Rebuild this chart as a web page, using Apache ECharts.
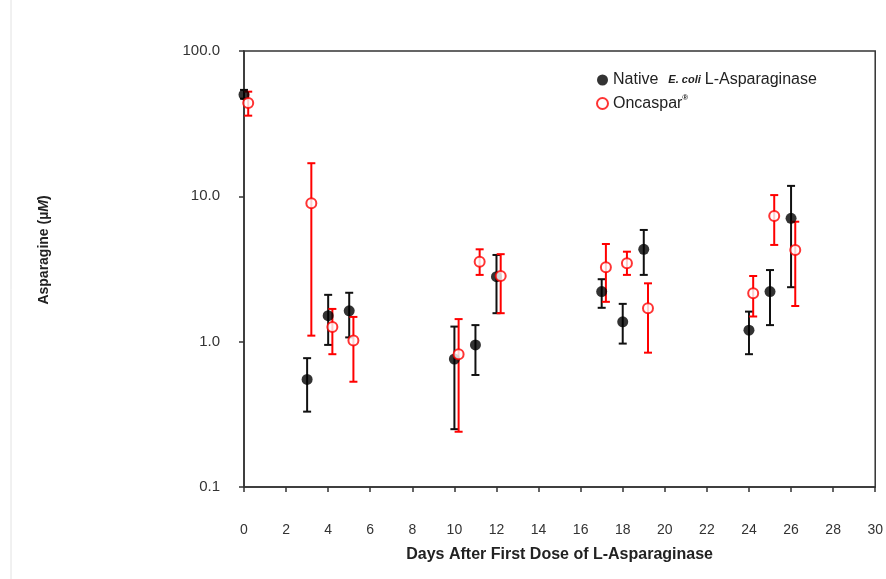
<!DOCTYPE html>
<html>
<head>
<meta charset="utf-8">
<script src="https://cdn.jsdelivr.net/npm/echarts@6/dist/echarts.min.js"></script>
<style>html,body{margin:0;padding:0;background:#fff}#c{width:886px;height:579px}</style>
</head>
<body>
<div id="c"></div>
<script>
// Native E. coli L-Asparaginase
var nativeDays = [0, 3, 4, 5, 10, 11, 12, 17, 18, 19, 24, 25, 26];
var nativeMean = [50, 0.55, 1.51, 1.63, 0.76, 0.95, 2.80, 2.21, 1.37, 4.32, 1.20, 2.21, 7.06];
var nativeLow  = [47, 0.33, 0.95, 1.07, 0.25, 0.59, 1.57, 1.71, 0.97, 2.88, 0.82, 1.30, 2.37];
var nativeHigh = [54, 0.77, 2.10, 2.17, 1.27, 1.30, 3.95, 2.69, 1.82, 5.87, 1.61, 3.11, 11.8];
// Oncaspar
var oncDays = [0.2, 3.2, 4.2, 5.2, 10.2, 11.2, 12.2, 17.2, 18.2, 19.2, 24.2, 25.2, 26.2];
var oncMean = [43.9, 8.95, 1.26, 1.02, 0.82, 3.55, 2.83, 3.25, 3.46, 1.70, 2.15, 7.33, 4.27];
var oncLow  = [35.9, 1.10, 0.82, 0.53, 0.24, 2.88, 1.57, 1.88, 2.88, 0.84, 1.49, 4.63, 1.76];
var oncHigh = [52.5, 16.9, 1.68, 1.48, 1.43, 4.32, 4.00, 4.70, 4.16, 2.52, 2.83, 10.2, 6.69];
var xTicks = [0, 30, 2];
var yTicks = [0.1, 1, 10, 100];

var font = 'Liberation Sans, Arial, sans-serif';

function pts(xs, ys) { return xs.map(function (x, i) { return [x, ys[i]]; }); }
function bars(xs, lo, hi) { return xs.map(function (x, i) { return [x, lo[i], hi[i]]; }); }

function errRender(color) {
  return function (params, api) {
    var x = api.value(0), lo = api.value(1), hi = api.value(2);
    var a = api.coord([x, lo]), b = api.coord([x, hi]);
    var w = 4;
    var st = { stroke: color, lineWidth: 2 };
    return {
      type: 'group',
      children: [
        { type: 'line', shape: { x1: a[0], y1: a[1], x2: b[0], y2: b[1] }, style: st },
        { type: 'line', shape: { x1: a[0] - w, y1: a[1], x2: a[0] + w, y2: a[1] }, style: st },
        { type: 'line', shape: { x1: b[0] - w, y1: b[1], x2: b[0] + w, y2: b[1] }, style: st }
      ]
    };
  };
}

var chart = echarts.init(document.getElementById('c'));
chart.setOption({
  animation: false,
  backgroundColor: '#fff',
  grid: { left: 244, right: 7, top: 51, bottom: 92, show: true, borderColor: '#333', borderWidth: 1.5 },
  xAxis: {
    type: 'value', min: xTicks[0], max: xTicks[1], interval: xTicks[2],
    name: 'Days After First Dose of L-Asparaginase', nameLocation: 'middle', nameGap: 60,
    nameTextStyle: { fontFamily: font, fontSize: 16, fontWeight: 'bold', color: '#222' },
    axisLine: { lineStyle: { color: '#333', width: 1.5 } },
    axisTick: { show: true, inside: false, length: 5, lineStyle: { color: '#333', width: 1.5 } },
    axisLabel: { margin: 36, fontFamily: font, fontSize: 14, color: '#333' },
    splitLine: { show: false }
  },
  yAxis: {
    type: 'log', logBase: 10, min: yTicks[0], max: yTicks[yTicks.length - 1],
    axisLine: { lineStyle: { color: '#333', width: 1.5 } },
    axisTick: { show: true, inside: false, length: 5, lineStyle: { color: '#333', width: 1.5 } },
    axisLabel: { margin: 24, fontFamily: font, fontSize: 15, color: '#333',
      formatter: function (v) { return Number(v).toFixed(1); } },
    minorTick: { show: false },
    splitLine: { show: false }
  },
  legend: {
    orient: 'vertical', left: 591, top: 67, itemWidth: 11, itemHeight: 11, itemGap: 6,
    data: ['Native', 'Oncaspar'],
    textStyle: {
      fontFamily: font, fontSize: 16, color: '#222',
      rich: {
        a: { fontFamily: font, fontSize: 16, color: '#222', lineHeight: 19 },
        i: { fontFamily: font, fontSize: 11, fontStyle: 'italic', fontWeight: 'bold', color: '#222', padding: [0, 4, 0, 10] },
        s: { fontFamily: font, fontSize: 8, fontWeight: 'bold', color: '#222', verticalAlign: 'top', lineHeight: 19 }
      }
    },
    formatter: function (n) {
      if (n === 'Native') return '{a|Native}{i|E. coli}{a|L-Asparaginase}';
      return '{a|Oncaspar}{s|®}';
    }
  },
  graphic: [
    { type: 'line', shape: { x1: 11, y1: 0, x2: 11, y2: 579 }, style: { stroke: '#e2e2e2', lineWidth: 1 } },
    {
      type: 'text', x: 44, y: 250, rotation: Math.PI / 2,
      style: {
        text: '{b|Asparagine (µ}{m|M}{b|)}', align: 'center', verticalAlign: 'middle',
        rich: {
          b: { fontFamily: font, fontSize: 14, fontWeight: 'bold', fill: '#222' },
          m: { fontFamily: font, fontSize: 14, fontWeight: 'bold', fontStyle: 'italic', fill: '#222' }
        }
      }
    }
  ],
  series: [
    { type: 'custom', name: 'nativeErr', data: bars(nativeDays, nativeLow, nativeHigh),
      encode: { x: 0, y: [1, 2] }, renderItem: errRender('#111'), silent: true, z: 2 },
    { type: 'custom', name: 'oncErr', data: bars(oncDays, oncLow, oncHigh),
      encode: { x: 0, y: [1, 2] }, renderItem: errRender('#ff0000'), silent: true, z: 2 },
    { type: 'scatter', name: 'Native', data: pts(nativeDays, nativeMean), symbol: 'circle', symbolSize: 11,
      itemStyle: { color: '#000' }, z: 3 },
    { type: 'scatter', name: 'Oncaspar', data: pts(oncDays, oncMean), symbol: 'emptyCircle', symbolSize: 10,
      itemStyle: { color: '#ff0000', borderColor: '#ff0000', borderWidth: 1.6 }, z: 4 }
  ]
});
</script>
</body>
</html>
